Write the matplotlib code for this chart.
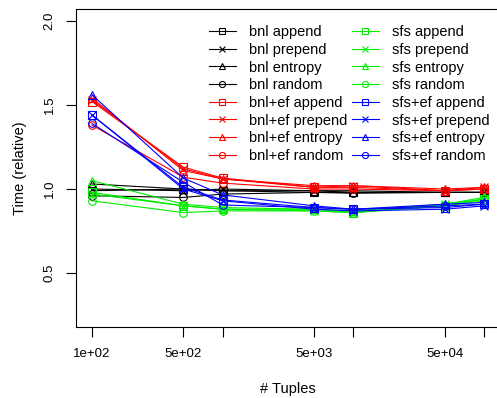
import matplotlib
matplotlib.use("Agg")
import matplotlib.pyplot as plt
import numpy as np

plt.rcParams['font.family'] = ['Liberation Sans', 'DejaVu Sans']

tuples = [100, 500, 1000, 5000, 10000, 50000, 100000]

bnl_append = [0.99, 1.00, 0.99, 0.99, 0.98, 0.98, 0.98]
bnl_prepend = [1.00, 0.99, 1.00, 0.99, 0.99, 0.98, 0.98]
bnl_entropy = [1.03, 1.00, 0.99, 0.98, 0.98, 0.98, 0.98]
bnl_random = [0.96, 0.95, 0.97, 0.98, 0.975, 0.98, 0.98]
bnlef_append = [1.52, 1.13, 1.065, 1.01, 1.01, 0.99, 1.00]
bnlef_prepend = [1.53, 1.12, 1.06, 1.01, 1.02, 0.99, 1.01]
bnlef_entropy = [1.54, 1.11, 1.06, 1.02, 1.02, 1.00, 1.01]
bnlef_random = [1.38, 1.07, 1.035, 1.00, 1.00, 0.99, 1.00]
sfs_append = [0.98, 0.90, 0.88, 0.88, 0.86, 0.90, 0.94]
sfs_prepend = [0.97, 0.90, 0.88, 0.87, 0.86, 0.91, 0.94]
sfs_entropy = [1.05, 0.91, 0.89, 0.88, 0.87, 0.91, 0.95]
sfs_random = [0.93, 0.86, 0.87, 0.87, 0.86, 0.90, 0.93]
sfsef_append = [1.44, 1.01, 0.935, 0.89, 0.88, 0.89, 0.91]
sfsef_prepend = [1.44, 1.00, 0.93, 0.88, 0.87, 0.88, 0.90]
sfsef_entropy = [1.56, 1.065, 0.965, 0.90, 0.88, 0.91, 0.92]
sfsef_random = [1.39, 1.04, 0.905, 0.89, 0.88, 0.90, 0.91]

series = [
    ("bnl append", bnl_append), ("bnl prepend", bnl_prepend),
    ("bnl entropy", bnl_entropy), ("bnl random", bnl_random),
    ("bnl+ef append", bnlef_append), ("bnl+ef prepend", bnlef_prepend),
    ("bnl+ef entropy", bnlef_entropy), ("bnl+ef random", bnlef_random),
    ("sfs append", sfs_append), ("sfs prepend", sfs_prepend),
    ("sfs entropy", sfs_entropy), ("sfs random", sfs_random),
    ("sfs+ef append", sfsef_append), ("sfs+ef prepend", sfsef_prepend),
    ("sfs+ef entropy", sfsef_entropy), ("sfs+ef random", sfsef_random),
]
colors = ['black', 'red', '#00ee00', 'blue']
markers = ['s', 'x', '^', 'o']

fs_tick = 9.5
fs_lab = 10.5
fs_leg = 10.5
fig = plt.figure(figsize=(4.97, 3.98), dpi=100)
ax = fig.add_axes([76.3/497, 71/398, 423.5/497, 318/398])

for i, (name, vals) in enumerate(series):
    c = colors[i // 4]
    m = markers[i % 4]
    ax.plot(tuples, vals, color=c, marker=m, markersize=5.5, linewidth=0.8,
            markerfacecolor='none', markeredgecolor=c, markeredgewidth=0.8,
            label=name)

ax.set_xscale('log')
ax.set_xlim(10**1.88, 10**5.12)
ax.set_ylim(0.18, 2.07)

ax.set_xticks(tuples)
ax.set_xticklabels(['1e+02', '5e+02', '', '5e+03', '', '5e+04', ''])
ax.xaxis.set_minor_locator(matplotlib.ticker.NullLocator())
ax.set_yticks([0.5, 1.0, 1.5, 2.0])
ax.set_yticklabels(['0.5', '1.0', '1.5', '2.0'], rotation=90, va='center')
ax.tick_params(axis='both', direction='out', length=7, width=0.8,
               labelsize=fs_tick, pad=8)
for s in ax.spines.values():
    s.set_linewidth(0.8)

ax.set_xlabel('# Tuples', fontsize=fs_lab, labelpad=16)
ax.set_ylabel('Time (relative)', fontsize=fs_lab, labelpad=12)

ax.legend(ncol=2, frameon=False, fontsize=fs_leg, loc='upper left',
          bbox_to_anchor=(0.282, 0.99), handlelength=1.85, labelspacing=0.25,
          columnspacing=0.3, handletextpad=0.9, borderpad=0.4, markerscale=0.8)

fig.savefig("out.png", dpi=100)
